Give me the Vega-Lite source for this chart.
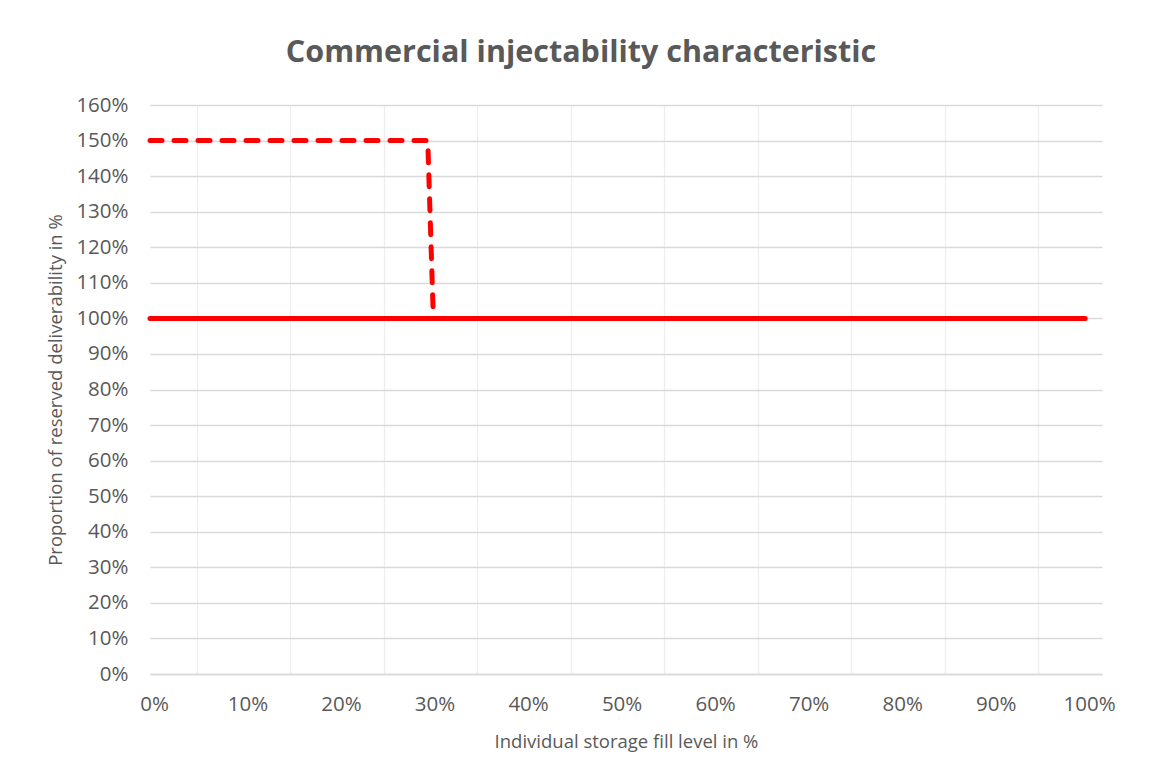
{
  "$schema": "https://vega.github.io/schema/vega-lite/v6.json",
  "width": 952,
  "height": 569,
  "autosize": "none",
  "padding": {"left": 150, "top": 105, "right": 51, "bottom": 104},
  "background": "white",
  "title": {
    "text": "Commercial injectability characteristic",
    "font": "Open Sans",
    "fontSize": 30.5,
    "fontWeight": "bold",
    "color": "#595959",
    "offset": 27,
    "frame": "bounds",
    "anchor": "middle"
  },
  "config": {
    "view": {"stroke": null},
    "axis": {
      "labelFont": "Open Sans",
      "titleFont": "Open Sans",
      "labelColor": "#595959",
      "titleColor": "#595959",
      "labelFontSize": 20.5,
      "titleFontSize": 18.5,
      "titleFontWeight": "normal",
      "ticks": false,
      "labelOverlap": false,
      "labelFlush": false,
      "gridColor": "#d9d9d9",
      "gridWidth": 1.3,
      "domainColor": "#d9d9d9",
      "domainWidth": 1.3
    }
  },
  "data": {
    "values": [
      {"series": "Commercial", "order": 1, "fill": 0, "value": 1.0},
      {"series": "Commercial", "order": 2, "fill": 1.0, "value": 1.0},
      {"series": "Boost", "order": 1, "fill": 0, "value": 1.5},
      {"series": "Boost", "order": 2, "fill": 0.297, "value": 1.5},
      {"series": "Boost", "order": 3, "fill": 0.303, "value": 1.0}
    ]
  },
  "layer": [
    {
      "transform": [{"filter": "datum.series === 'Commercial'"}],
      "mark": {"type": "line", "color": "#ff0000", "strokeWidth": 5, "strokeCap": "round"},
      "encoding": {
        "x": {
          "field": "fill",
          "type": "quantitative",
          "scale": {"domain": [0, 1.018], "nice": false, "zero": false},
          "axis": {
            "orient": "top",
            "values": [0.05, 0.15, 0.25, 0.35, 0.45, 0.55, 0.65, 0.75, 0.85, 0.95],
            "labels": false,
            "domain": false,
            "title": null,
            "gridColor": "#eeeeee"
          }
        },
        "y": {
          "field": "value",
          "type": "quantitative",
          "scale": {"domain": [0, 1.6], "nice": false},
          "axis": {
            "values": [0, 0.1, 0.2, 0.3, 0.4, 0.5, 0.6, 0.7, 0.8, 0.9, 1.0, 1.1, 1.2, 1.3, 1.4, 1.5, 1.6],
            "format": ".0%",
            "domain": false,
            "labelOverlap": false,
            "labelSeparation": 0,
            "labelPadding": 22,
            "titlePadding": 10,
            "title": "Proportion of reserved deliverability in %"
          }
        },
        "order": {"field": "order", "type": "quantitative"}
      }
    },
    {
      "transform": [{"filter": "datum.series === 'Boost'"}],
      "mark": {"type": "line", "color": "#ff0000", "strokeWidth": 5, "strokeCap": "round", "strokeJoin": "round", "strokeDash": [12, 12]},
      "encoding": {
        "x": {
          "field": "fill",
          "type": "quantitative",
          "scale": {"domain": [0, 1.018], "nice": false, "zero": false},
          "axis": {
            "orient": "bottom",
            "values": [0, 0.1, 0.2, 0.3, 0.4, 0.5, 0.6, 0.7, 0.8, 0.9, 1.0],
            "format": ".0%",
            "labelPadding": 20,
            "labelOffset": 4,
            "titlePadding": 18,
            "title": "Individual storage fill level in %"
          }
        },
        "y": {
          "field": "value",
          "type": "quantitative",
          "scale": {"domain": [0, 1.6], "nice": false},
          "axis": {
            "values": [0, 0.1, 0.2, 0.3, 0.4, 0.5, 0.6, 0.7, 0.8, 0.9, 1.0, 1.1, 1.2, 1.3, 1.4, 1.5, 1.6],
            "format": ".0%",
            "domain": false,
            "labelOverlap": false,
            "labelSeparation": 0,
            "labelPadding": 22,
            "titlePadding": 10,
            "title": "Proportion of reserved deliverability in %"
          }
        },
        "order": {"field": "order", "type": "quantitative"}
      }
    }
  ],
  "resolve": {"axis": {"x": "independent"}}
}
